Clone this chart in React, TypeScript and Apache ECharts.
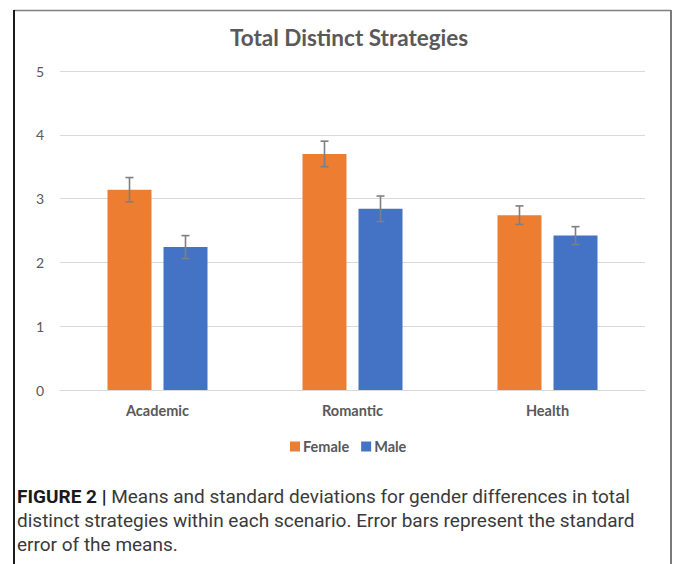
import React, { useEffect, useRef } from "react";
import * as echarts from "echarts";

const categories = ["Academic", "Romantic", "Health"];
const femaleMeans = [3.14, 3.7, 2.74];
const maleMeans = [2.24, 2.84, 2.42];
const femaleErr = [0.19, 0.2, 0.145];
const maleErr = [0.18, 0.2, 0.14];
const yTicks = [0, 1, 2, 3, 4, 5];

const TXT = "#595959";
const ORANGE = "#ED7D31";
const BLUE = "#4472C4";
const BAR_W = 44;
const GAP = 12;

function errorSeries(name: string, means: number[], errs: number[], side: number) {
  return {
    type: "custom",
    name: name + " error",
    z: 10,
    silent: true,
    data: means.map((m, i) => [i, m - errs[i], m + errs[i]]),
    renderItem: (params: any, api: any) => {
      const i = api.value(0);
      const lo = api.coord([i, api.value(1)]);
      const hi = api.coord([i, api.value(2)]);
      const x = lo[0] + side * (BAR_W + GAP) / 2;
      const cap = 4;
      const style = { stroke: "#7f7f7f", lineWidth: 1.6 };
      return {
        type: "group",
        children: [
          { type: "line", shape: { x1: x, y1: hi[1], x2: x, y2: lo[1] }, style },
          { type: "line", shape: { x1: x - cap, y1: hi[1], x2: x + cap, y2: hi[1] }, style },
          { type: "line", shape: { x1: x - cap, y1: lo[1], x2: x + cap, y2: lo[1] }, style },
        ],
      };
    },
  };
}

export default function App() {
  const ref = useRef<HTMLDivElement>(null);
  useEffect(() => {
    document.body.style.margin = "0";
    const chart = echarts.init(ref.current!, undefined, { renderer: "svg" });
    chart.setOption({
      animation: false,
      backgroundColor: "#ffffff",
      title: {
        text: "Total Distinct Strategies",
        left: 225,
        top: 21,
        textStyle: { fontFamily: "Lato", fontWeight: "bold", fontSize: 22.5, color: TXT },
      },
      legend: {
        data: ["Female", "Male"],
        left: 285,
        top: 434,
        itemWidth: 10,
        itemHeight: 10,
        itemGap: 12,
        icon: "rect",
        textStyle: { fontFamily: "Lato", fontWeight: "bold", fontSize: 14.5, color: TXT, padding: [0, 0, 0, -2] },
      },
      grid: { left: 60, right: 28, top: 71, bottom: 174 },
      xAxis: {
        type: "category",
        data: categories,
        axisLine: { show: true, lineStyle: { color: "#d9d9d9", width: 1 } },
        axisTick: { show: false },
        axisLabel: { fontFamily: "Lato", fontWeight: "bold", fontSize: 14.5, color: TXT, margin: 13 },
      },
      yAxis: {
        type: "value",
        min: yTicks[0],
        max: yTicks[yTicks.length - 1],
        interval: 1,
        axisLine: { show: false },
        axisTick: { show: false },
        splitLine: { lineStyle: { color: "#d9d9d9", width: 1 } },
        axisLabel: { fontFamily: "Lato", fontSize: 14, color: TXT, margin: 16 },
      },
      series: [
        { type: "bar", name: "Female", data: femaleMeans, barWidth: BAR_W, barGap: (GAP / BAR_W * 100).toFixed(1) + "%", itemStyle: { color: ORANGE } },
        { type: "bar", name: "Male", data: maleMeans, barWidth: BAR_W, itemStyle: { color: BLUE } },
        errorSeries("Female", femaleMeans, femaleErr, -1),
        errorSeries("Male", maleMeans, maleErr, 1),
      ],
      graphic: [
        { type: "line", shape: { x1: 14, y1: 10.5, x2: 671, y2: 10.5 }, style: { stroke: "#808080", lineWidth: 1.5 } },
        { type: "line", shape: { x1: 14, y1: 10, x2: 14, y2: 564 }, style: { stroke: "#1a1a1a", lineWidth: 2 } },
        { type: "line", shape: { x1: 671, y1: 10, x2: 671, y2: 564 }, style: { stroke: "#7a7a7a", lineWidth: 2 } },
        {
          type: "text",
          left: 17,
          top: 484,
          style: {
            text:
              "{b|FIGURE 2 |}{r| Means and standard deviations for gender differences in total}\n" +
              "{r|distinct strategies within each scenario. Error bars represent the standard}\n" +
              "{r|error of the means.}",
            fontFamily: "Roboto",
            fontSize: 19,
            lineHeight: 24,
            fill: "#333333",
            rich: {
              b: { fontFamily: "Roboto", fontWeight: "bold", fontSize: 19, lineHeight: 24, fill: "#1a1a1a" },
              r: { fontFamily: "Roboto", fontSize: 19, lineHeight: 24, fill: "#3a3a3a" },
            },
          },
        },
      ],
    });
    return () => chart.dispose();
  }, []);
  return <div ref={ref} style={{ width: 673, height: 564 }} />;
}
